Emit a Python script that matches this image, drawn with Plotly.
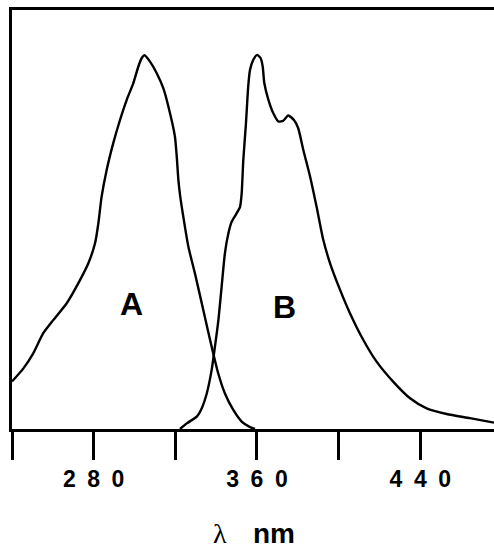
import plotly.graph_objects as go

# Curve A (absorption-like band), wavelength in nm and normalized intensity
a_nm = [240.0, 245.6, 250.4, 255.3, 260.2, 266.8, 273.3, 277.4, 280.7, 282.3, 283.9,
        286.4, 289.6, 292.9, 296.2, 299.4, 301.9, 303.5, 304.9, 307.6, 310.9, 314.1,
        316.6, 319.8, 320.7, 321.5, 322.3, 323.9, 326.4, 329.6, 333.7, 337.8, 341.0,
        344.3, 348.4, 352.5, 356.6, 359.0]
a_val = [0.127, 0.162, 0.202, 0.256, 0.291, 0.336, 0.398, 0.443, 0.497, 0.550, 0.621,
         0.693, 0.764, 0.826, 0.880, 0.924, 0.969, 0.991, 0.999, 0.982, 0.951, 0.911,
         0.862, 0.782, 0.728, 0.666, 0.626, 0.568, 0.487, 0.416, 0.318, 0.220, 0.149,
         0.095, 0.051, 0.020, 0.005, 0.0]

# Curve B (emission-like band)
b_nm = [322.3, 325.6, 330.5, 332.9, 335.4, 337.8, 339.4, 341.1, 342.7, 344.3, 346.0,
        347.6, 350.1, 351.7, 352.5, 353.3, 354.6, 355.7, 356.6, 358.2, 360.1, 361.8,
        362.8, 363.6, 365.6, 368.0, 370.5, 372.9, 375.3, 378.1, 380.2, 382.7, 386.0,
        389.2, 392.5, 395.8, 400.7, 405.6, 412.1, 418.6, 426.8, 435.0, 443.1, 452.9,
        464.3, 476.1]
b_val = [0.0, 0.015, 0.033, 0.055, 0.095, 0.158, 0.220, 0.291, 0.381, 0.470, 0.523,
         0.554, 0.577, 0.594, 0.630, 0.719, 0.817, 0.915, 0.960, 0.987, 1.0, 0.991,
         0.969, 0.924, 0.880, 0.844, 0.822, 0.824, 0.838, 0.826, 0.804, 0.746, 0.675,
         0.594, 0.505, 0.443, 0.372, 0.309, 0.238, 0.180, 0.126, 0.082, 0.055, 0.040,
         0.029, 0.017]

tick_vals = [240, 280, 320, 360, 400, 440]
tick_text = ["", "2\u20028\u20020", "", "3\u20026\u20020", "", "4\u20024\u20020"]

labels = ["A", "B"]
label_x = [298.3, 373.7]
label_y = [0.334, 0.325]

fig = go.Figure()
fig.add_trace(go.Scatter(x=a_nm, y=a_val, mode="lines",
                         line=dict(color="black", width=2.4, shape="spline", smoothing=0.6),
                         showlegend=False, hoverinfo="skip"))
fig.add_trace(go.Scatter(x=b_nm, y=b_val, mode="lines",
                         line=dict(color="black", width=2.4, shape="spline", smoothing=0.6),
                         showlegend=False, hoverinfo="skip"))

for t, x, y in zip(labels, label_x, label_y):
    fig.add_annotation(x=x, y=y, xref="x", yref="y", text=t, showarrow=False,
                       font=dict(family="Liberation Sans, Arial", size=32, color="black", weight="bold"),
                       xanchor="center", yanchor="middle")

fig.add_annotation(x=342.1, y=0, xref="x", yref="paper", text="λ", showarrow=False,
                   font=dict(family="Liberation Serif, Times New Roman", size=28, color="black"),
                   xanchor="center", yanchor="middle", yshift=-104)
fig.add_annotation(x=368.3, y=0, xref="x", yref="paper", text="nm", showarrow=False,
                   font=dict(family="Liberation Sans, Arial", size=28, color="black", weight="bold"),
                   xanchor="center", yanchor="middle", yshift=-104)

fig.update_layout(
    width=494, height=548,
    margin=dict(l=12, r=0, t=10, b=119),
    paper_bgcolor="white", plot_bgcolor="white",
    xaxis=dict(range=[240, 476.1], showgrid=False, zeroline=False,
               showline=True, linecolor="black", linewidth=2.5, mirror=True,
               ticks="outside", ticklen=28, tickwidth=2.5, tickcolor="black",
               tickvals=tick_vals, ticktext=tick_text,
               tickfont=dict(family="Liberation Sans, Arial", size=23, color="black", weight="bold")),
    yaxis=dict(range=[0, 1.12], showgrid=False, zeroline=False,
               showline=True, linecolor="black", linewidth=2.5,
               showticklabels=False, ticks=""),
)

fig.write_html("out.html", config={"displayModeBar": False},
               post_script="document.body.style.margin='0';document.body.style.overflow='hidden';")
